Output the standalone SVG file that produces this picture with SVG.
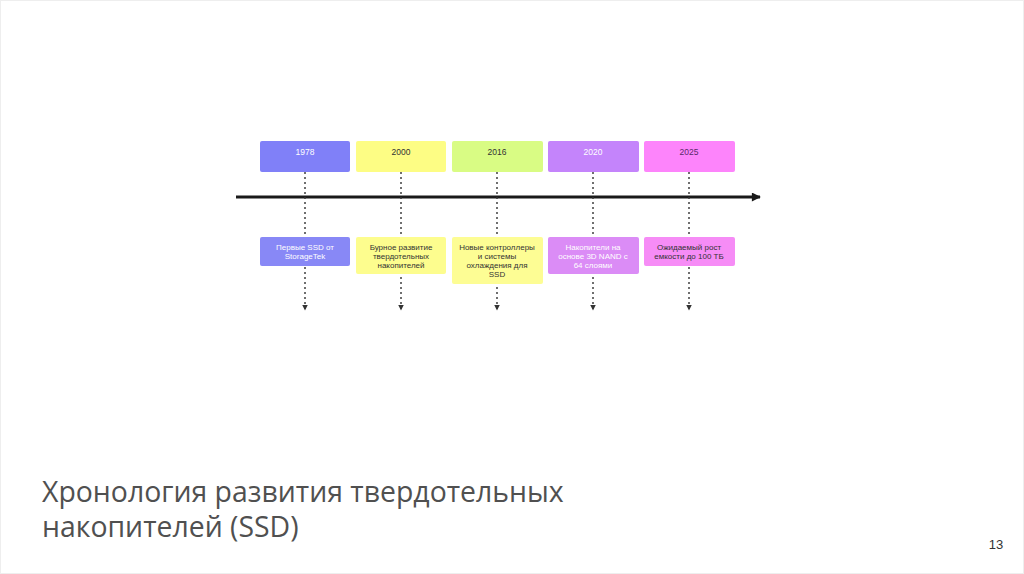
<svg xmlns="http://www.w3.org/2000/svg" width="1024" height="574" viewBox="0 0 1024 574">
<style>
.lbl{font-family:"Liberation Sans",Arial,sans-serif;font-size:8px;text-anchor:middle}
.yr{font-size:8.5px}
.w{fill:#ffffff}.d{fill:#333333}.p{fill:#5a2a6a}
.dash{stroke:#333;stroke-width:1.4;stroke-dasharray:2,3;fill:none}
.title{font-family:"Open Sans","Liberation Sans",sans-serif;font-size:28.4px;fill:#505050}
</style>
<defs>
<marker id="ah" viewBox="0 0 10 10" refX="9" refY="5" markerWidth="4" markerHeight="4" orient="auto"><path d="M0,0 L10,5 L0,10 z" fill="#333"/></marker>
<marker id="big" viewBox="0 0 10 10" refX="9" refY="5" markerWidth="4" markerHeight="3" orient="auto"><path d="M0,0 L10,5 L0,10 z" fill="#1a1a1a"/></marker>
</defs>
<rect x="0.5" y="0.5" width="1023" height="573" fill="#ffffff" stroke="#eeeeee"/>
<g id="connectors">
<line x1="236" y1="197" x2="760" y2="197" stroke="#1a1a1a" stroke-width="3" marker-end="url(#big)"/>
<line class="dash" x1="305" y1="172" x2="305" y2="310" marker-end="url(#ah)"/>
<line class="dash" x1="401" y1="172" x2="401" y2="310" marker-end="url(#ah)"/>
<line class="dash" x1="497" y1="172" x2="497" y2="310" marker-end="url(#ah)"/>
<line class="dash" x1="593" y1="172" x2="593" y2="310" marker-end="url(#ah)"/>
<line class="dash" x1="689" y1="172" x2="689" y2="310" marker-end="url(#ah)"/>
</g>
<g id="y1978"><rect x="260" y="141" width="90" height="31" rx="2" fill="#8080f8"/><text class="lbl yr w" x="305" y="155">1978</text></g>
<g id="y2000"><rect x="356" y="141" width="90" height="31" rx="2" fill="#fdfd84"/><text class="lbl yr d" x="401" y="155">2000</text></g>
<g id="y2016"><rect x="452" y="141" width="91" height="31" rx="2" fill="#d9fc84"/><text class="lbl yr d" x="497" y="155">2016</text></g>
<g id="y2020"><rect x="548" y="141" width="91" height="31" rx="2" fill="#c484fb"/><text class="lbl yr w" x="593" y="155">2020</text></g>
<g id="y2025"><rect x="644" y="141" width="91" height="31" rx="2" fill="#fd84fb"/><text class="lbl yr p" x="689" y="155">2025</text></g>
<g id="e1978"><rect x="260" y="237" width="90" height="29" rx="2" fill="#8888f6"/><text class="lbl w" x="305" y="250">Первые SSD от</text><text class="lbl w" x="305" y="259">StorageTek</text></g>
<g id="e2000"><rect x="356" y="237" width="90" height="37" rx="2" fill="#fdfd8e"/><text class="lbl d" x="401" y="250">Бурное развитие</text><text class="lbl d" x="401" y="259">твердотельных</text><text class="lbl d" x="401" y="268">накопителей</text></g>
<g id="e2016"><rect x="452" y="237" width="91" height="47" rx="2" fill="#fdfd94"/><text class="lbl d" x="497" y="250">Новые контроллеры</text><text class="lbl d" x="497" y="259">и системы</text><text class="lbl d" x="497" y="268">охлаждения для</text><text class="lbl d" x="497" y="277">SSD</text></g>
<g id="e2020"><rect x="548" y="237" width="91" height="37" rx="2" fill="#db8cf6"/><text class="lbl w" x="593" y="250">Накопители на</text><text class="lbl w" x="593" y="259">основе 3D NAND с</text><text class="lbl w" x="593" y="268">64 слоями</text></g>
<g id="e2025"><rect x="644" y="237" width="91" height="29" rx="2" fill="#f68cf6"/><text class="lbl d" x="689" y="250">Ожидаемый рост</text><text class="lbl d" x="689" y="259">емкости до 100 ТБ</text></g>
<text class="title" x="42" y="502">Хронология развития твердотельных</text>
<text class="title" x="42" y="537">накопителей (SSD)</text>
<text x="996" y="549" font-family="Liberation Sans,Arial,sans-serif" font-size="13" fill="#333" text-anchor="middle">13</text>
</svg>
